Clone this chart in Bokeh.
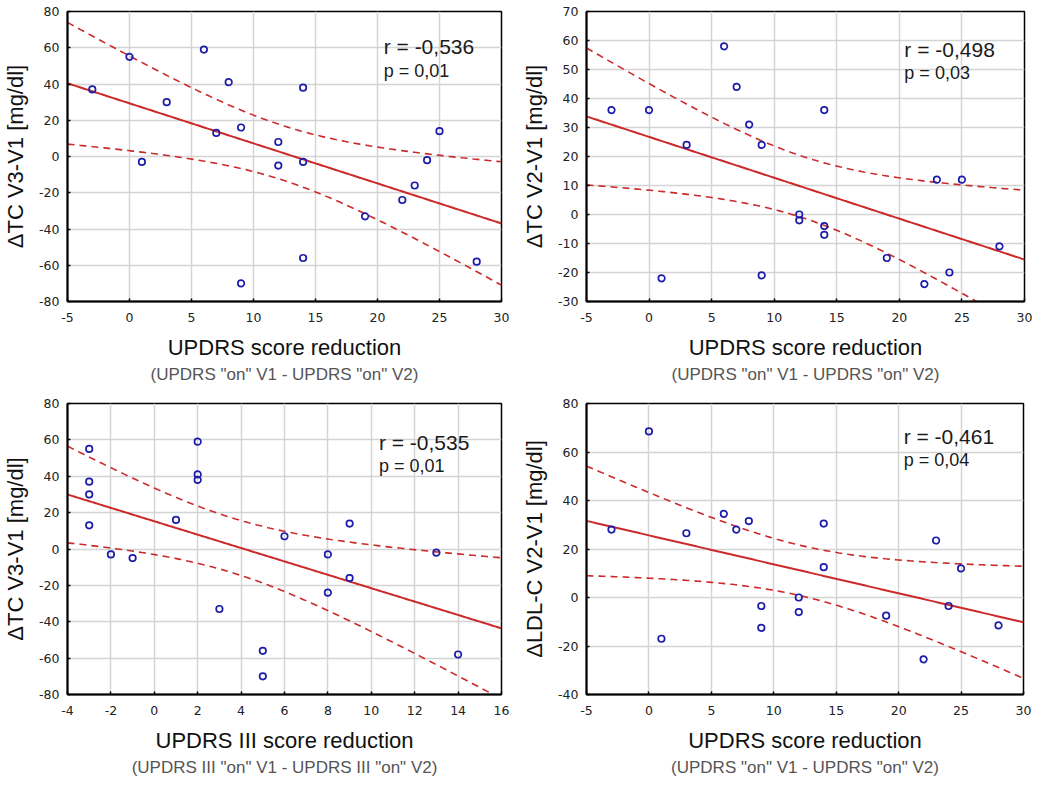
import numpy as np
from bokeh.plotting import figure
from bokeh.models import Range1d, FixedTicker, Label, Title
from bokeh.layouts import column, row
from bokeh.embed import file_html
from bokeh.resources import INLINE

# ---- data ----
a_x = [-3, 0, 1, 3, 6, 7, 8, 9, 9, 12, 12, 14, 14, 14, 19, 22, 23, 24, 25, 28]
a_y = [37, 55, -3, 30, 59, 13, 41, 16, -70, 8, -5, 38, -3, -56, -33, -24, -16, -2, 14, -58]

b_x = [-3, 0, 1, 3, 6, 7, 8, 9, 9, 12, 12, 14, 14, 14, 19, 22, 23, 24, 25, 28]
b_y = [36, 36, -22, 24, 58, 44, 31, 24, -21, 0, -2, 36, -4, -7, -15, -24, 12, -20, 12, -11]

c_x = [-3, -3, -3, -3, -2, -1, 1, 2, 2, 2, 3, 5, 5, 6, 8, 8, 9, 9, 13, 14]
c_y = [55, 37, 30, 13, -3, -5, 16, 59, 41, 38, -33, -56, -70, 7, -3, -24, 14, -16, -2, -58]

d_x = [-3, 0, 1, 3, 6, 7, 8, 9, 9, 12, 12, 14, 14, 19, 22, 23, 24, 25, 28]
d_y = [28, 68.5, -17, 26.5, 34.5, 28, 31.5, -3.5, -12.5, 0, -6, 30.5, 12.5, -7.5, -25.5, 23.5, -3.5, 12, -11.5]

x_ticks_5 = [-5, 0, 5, 10, 15, 20, 25, 30]
x_ticks_2 = [-4, -2, 0, 2, 4, 6, 8, 10, 12, 14, 16]
y_ticks_20 = [-80, -60, -40, -20, 0, 20, 40, 60, 80]
y_ticks_10 = [-30, -20, -10, 0, 10, 20, 30, 40, 50, 60, 70]
y_ticks_20b = [-40, -20, 0, 20, 40, 60, 80]

r_texts = ["r = -0,536", "r = -0,498", "r = -0,535", "r = -0,461"]
p_texts = ["p = 0,01", "p = 0,03", "p = 0,01", "p = 0,04"]
y_labels = ["\u0394TC V3-V1 [mg/dl]", "\u0394TC V2-V1 [mg/dl]",
            "\u0394TC V3-V1 [mg/dl]", "\u0394LDL-C V2-V1 [mg/dl]"]
x_labels = ["UPDRS score reduction", "UPDRS score reduction",
            "UPDRS III score reduction", "UPDRS score reduction"]
sub_labels = ['(UPDRS "on" V1 - UPDRS "on" V2)', '(UPDRS "on" V1 - UPDRS "on" V2)',
              '(UPDRS III "on" V1 - UPDRS III "on" V2)', '(UPDRS "on" V1 - UPDRS "on" V2)']

T95 = {17: 2.110, 18: 2.101}

FONT = "Liberation Sans"
TICK_FONT = "DejaVu Sans"
RED = "#cc2a2a"
BLUE = "#1c1caa"


def make_panel(xs, ys, xr, yr, xt, yt, ylab, xlab, sub, rt, pt, rx, ry, py, bl, br, bt, bb):
    p = figure(width=519, height=388, output_backend="svg", toolbar_location=None,
               x_range=Range1d(*xr), y_range=Range1d(*yr),
               min_border_left=bl, min_border_right=br, min_border_top=bt, min_border_bottom=bb)
    p.background_fill_color = "white"
    p.outline_line_color = "black"
    p.outline_line_width = 1.5
    p.xaxis.ticker = FixedTicker(ticks=xt)
    p.yaxis.ticker = FixedTicker(ticks=yt)
    p.xgrid.ticker = FixedTicker(ticks=xt)
    p.ygrid.ticker = FixedTicker(ticks=yt)
    p.xaxis.major_label_overrides = {t: str(t) for t in xt}
    p.yaxis.major_label_overrides = {t: str(t) for t in yt}
    p.grid.grid_line_color = "#d4d4d4"
    p.grid.grid_line_width = 1.5
    for ax in (p.xaxis, p.yaxis):
        ax.axis_line_width = 2
        ax.axis_line_color = "black"
        ax.major_tick_in = 3
        ax.major_tick_out = 0
        ax.major_tick_line_width = 1.5
        ax.minor_tick_line_color = None
        ax.major_label_text_font = TICK_FONT
        ax.major_label_text_font_size = "12.5px"
        ax.major_label_text_color = "#222222"
        ax.axis_label_text_font = FONT
        ax.axis_label_text_font_size = "22px"
        ax.axis_label_text_font_style = "normal"
        ax.axis_label_text_color = "#111111"
    p.xaxis.axis_label = xlab
    p.yaxis.axis_label = ylab
    p.xaxis.major_label_standoff = 11
    p.xaxis.axis_label_standoff = 10
    p.yaxis.major_label_standoff = 8
    p.yaxis.axis_label_standoff = 8

    st = Title(text=sub, align="center", text_font=FONT, text_font_size="17px",
               text_font_style="normal", text_color="#555555", standoff=0)
    p.add_layout(st, "below")

    # regression line and 95% confidence band of the mean, computed from the data
    x = np.array(xs, dtype=float)
    y = np.array(ys, dtype=float)
    n = len(x)
    slope, icpt = np.polyfit(x, y, 1)
    resid = y - (slope * x + icpt)
    s = np.sqrt(np.sum(resid ** 2) / (n - 2))
    sxx = np.sum((x - x.mean()) ** 2)
    gx = np.linspace(xr[0], xr[1], 200)
    gy = slope * gx + icpt
    hw = T95[n - 2] * s * np.sqrt(1.0 / n + (gx - x.mean()) ** 2 / sxx)

    p.line(gx, gy + hw, line_color=RED, line_width=1.6, line_dash="7 5")
    p.line(gx, gy - hw, line_color=RED, line_width=1.6, line_dash="7 5")
    p.line(gx, gy, line_color=RED, line_width=2)
    p.scatter(xs, ys, marker="circle", size=6.5, fill_color=None,
              line_color=BLUE, line_width=1.7)

    p.add_layout(Label(x=rx, y=ry, text=rt, text_font=FONT, text_font_size="21px",
                       text_color="#1a1a1a", text_baseline="middle", text_align="left"))
    p.add_layout(Label(x=rx, y=py, text=pt, text_font=FONT, text_font_size="18px",
                       text_color="#1a1a1a", text_baseline="middle", text_align="left"))
    return p


p1 = make_panel(a_x, a_y, (-5, 30), (-80, 80), x_ticks_5, y_ticks_20,
                y_labels[0], x_labels[0], sub_labels[0], r_texts[0], p_texts[0],
                20.5, 60.7, 47.3, 62, 18, 11, 87)
p2 = make_panel(b_x, b_y, (-5, 30), (-30, 70), x_ticks_5, y_ticks_10,
                y_labels[1], x_labels[1], sub_labels[1], r_texts[1], p_texts[1],
                20.4, 56.9, 48.7, 66, 14, 8, 87)
p3 = make_panel(c_x, c_y, (-4, 16), (-80, 80), x_ticks_2, y_ticks_20,
                y_labels[2], x_labels[2], sub_labels[2], r_texts[2], p_texts[2],
                10.35, 58.5, 45.4, 62, 18, 15, 81)
p4 = make_panel(d_x, d_y, (-5, 30), (-40, 80), x_ticks_5, y_ticks_20b,
                y_labels[3], x_labels[3], sub_labels[3], r_texts[3], p_texts[3],
                20.4, 66.2, 56.5, 65, 15, 14, 81)

layout = column(row(p1, p2), row(p3, p4))
open("out.html", "w").write(file_html(layout, INLINE))
